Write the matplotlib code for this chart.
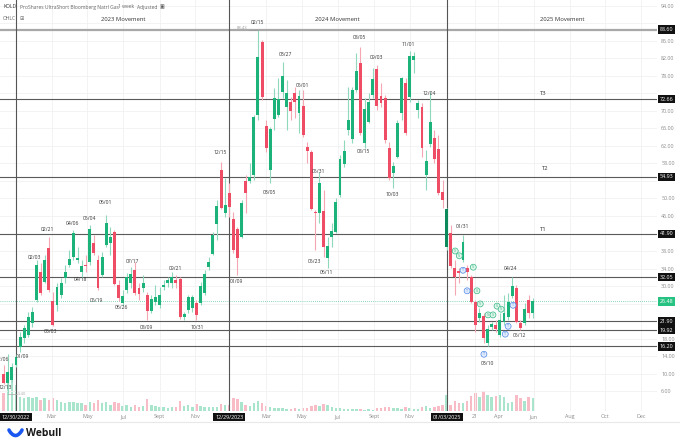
import numpy as np
import pandas as pd
import matplotlib
matplotlib.use("Agg")
import matplotlib.pyplot as plt
import matplotlib.dates as mdates
import matplotlib.transforms as mtrans
from matplotlib.lines import Line2D

plt.rcParams["font.family"] = ["Open Sans", "DejaVu Sans"]

# ---------------------------------------------------------------------------
# DATA  (weekly candles, week ending Friday, first candle 2022-12-09)
# ---------------------------------------------------------------------------
FIRST_WEEK = "2022-12-09"
opens = [9.9, 7.8, 8.5, 11.9,
         16.0, 18.1, 18.8, 21.5, 26.8, 33.2, 30.9, 38.7, 26.6, 25.6,
         27.9, 31.8, 34.8, 36.6, 35.9, 33.2, 34.8, 35.5, 39.8, 35.9,
         32.5, 39.4, 39.8, 42.3, 30.2, 26.1, 29.1, 30.7, 33.7, 29.6,
         29.5, 27.9, 24.3, 26.3, 25.6, 29.8, 30.7, 30.7, 31.4, 31.6,
         22.9, 24.5, 25.0, 26.1, 26.1, 28.4, 34.3, 37.3, 44.2, 56.5,
         46.7, 51.3, 45.3, 43.0, 41.2, 54.0, 54.0, 55.4, 69.1, 85.8,
         66.6, 56.5, 68.2, 69.1, 74.3, 70.9, 72.1, 74.1, 69.5, 71.1,
         61.8, 60.6, 46.9, 46.7, 47.1, 36.4, 41.2, 42.3, 50.8, 57.9,
         65.7, 63.6, 74.8, 81.0, 62.7, 67.5, 73.7, 79.6, 73.4, 73.0,
         61.5, 55.8, 59.5, 69.5, 76.4, 73.2, 81.7, 70.2, 70.9, 55.4,
         62.4, 63.8, 61.3, 51.5, 38.9, 42.1, 34.1, 33.4, 35.9, 34.1,
         32.0, 26.3, 22.6, 23.1, 17.0, 20.6, 21.1, 18.8, 21.8, 22.9,
         27.7, 29.5, 21.5, 21.5, 26.8, 23.9]
highs = [12.0, 14.5, 12.5, 14.5,
         19.5, 21.1, 24.0, 25.2, 35.9, 35.3, 37.1, 41.2, 28.6, 30.7,
         31.8, 34.8, 38.2, 42.8, 38.9, 35.9, 37.1, 43.9, 41.6, 37.1,
         37.8, 46.2, 43.5, 42.8, 31.4, 29.1, 33.0, 34.3, 35.5, 30.7,
         32.5, 28.6, 27.9, 30.2, 29.8, 31.4, 32.0, 33.2, 32.5, 32.0,
         24.0, 27.9, 27.9, 26.8, 30.9, 33.7, 36.6, 42.3, 49.7, 58.3,
         54.7, 53.5, 46.9, 43.5, 49.7, 55.4, 58.1, 69.1, 88.43, 86.2,
         67.9, 66.3, 75.3, 77.5, 81.2, 77.1, 73.2, 75.5, 74.8, 74.8,
         62.9, 61.1, 47.4, 56.1, 51.9, 41.2, 44.4, 50.1, 59.9, 63.4,
         75.5, 75.5, 83.3, 84.6, 73.0, 74.1, 79.8, 80.5, 76.4, 73.7,
         62.9, 58.3, 67.9, 77.8, 77.5, 83.7, 83.5, 72.5, 71.8, 61.1,
         74.3, 65.7, 64.5, 54.2, 47.8, 43.9, 35.9, 34.1, 41.6, 34.8,
         32.5, 26.8, 24.9, 23.8, 21.1, 21.8, 22.2, 23.8, 27.9, 28.4,
         32.0, 30.2, 22.2, 26.1, 27.9, 27.2]
lows = [7.6, 5.40, 8.0, 11.5,
        14.9, 17.0, 18.3, 20.6, 26.3, 27.9, 30.7, 28.6, 20.8, 24.3,
        27.2, 30.7, 34.3, 35.9, 35.3, 31.8, 33.2, 34.8, 37.1, 29.1,
        32.0, 38.9, 37.1, 30.2, 26.6, 25.6, 28.4, 29.5, 27.9, 26.8,
        28.6, 22.2, 23.8, 25.6, 24.9, 29.1, 29.8, 29.5, 29.5, 22.4,
        22.2, 23.8, 24.0, 22.2, 25.6, 27.9, 33.7, 37.1, 40.5, 47.6,
        45.8, 45.8, 37.5, 32.5, 41.0, 46.7, 53.5, 54.2, 67.9, 72.5,
        60.6, 53.5, 65.7, 68.6, 73.0, 65.7, 67.9, 68.4, 65.0, 64.1,
        58.1, 47.4, 38.2, 44.4, 36.6, 34.1, 38.9, 42.1, 50.3, 57.2,
        64.5, 62.7, 74.3, 64.5, 61.5, 67.2, 73.0, 70.2, 70.9, 62.7,
        54.2, 52.4, 59.2, 67.9, 64.5, 72.1, 78.7, 68.4, 59.5, 51.9,
        61.8, 58.1, 50.8, 47.8, 38.2, 34.1, 27.9, 30.7, 35.5, 31.4,
        26.1, 19.5, 21.8, 17.0, 16.2, 19.9, 19.5, 18.3, 21.1, 22.2,
        27.2, 21.5, 19.9, 21.1, 22.6, 22.6]
closes = [7.8, 10.3, 11.5, 13.7,
          18.3, 20.4, 22.9, 24.0, 34.8, 28.4, 35.9, 29.1, 21.1, 29.8,
          30.7, 33.2, 36.2, 42.1, 36.4, 34.6, 34.6, 43.0, 37.5, 29.5,
          36.6, 44.4, 41.2, 30.5, 27.2, 27.7, 32.0, 32.7, 28.4, 28.2,
          30.7, 24.3, 27.0, 27.5, 27.9, 30.2, 31.4, 32.0, 30.7, 22.9,
          23.6, 27.5, 27.5, 23.4, 30.0, 32.7, 35.5, 41.6, 48.3, 47.8,
          48.5, 48.0, 38.2, 36.4, 49.0, 51.3, 54.9, 68.6, 82.3, 73.2,
          61.5, 65.9, 73.0, 72.7, 78.0, 74.1, 70.0, 72.1, 73.4, 64.5,
          60.8, 47.6, 46.7, 53.5, 38.9, 39.1, 42.6, 49.2, 59.0, 60.8,
          67.9, 74.8, 79.1, 65.0, 70.4, 72.1, 77.3, 71.1, 71.8, 63.4,
          54.7, 57.4, 67.2, 77.5, 65.0, 82.6, 82.6, 71.8, 61.5, 58.6,
          67.5, 59.0, 51.3, 49.7, 47.6, 34.6, 32.0, 32.9, 40.1, 33.2,
          26.3, 21.1, 23.8, 18.1, 20.2, 21.3, 20.2, 22.2, 23.8, 26.3,
          30.0, 21.8, 20.4, 24.7, 23.8, 26.48]
volumes = [18, 30, 31, 26,
           14, 13, 14, 13, 14, 11, 13, 11, 13, 11,
           9, 8, 9, 9, 8, 8, 6, 9, 8, 11,
           8, 9, 6, 9, 8, 5, 6, 4, 6, 4,
           5, 12, 6, 5, 4, 4, 3, 4, 4, 10,
           5, 6, 4, 7, 5, 4, 4, 4, 4, 7,
           6, 6, 13, 12, 9, 6, 5, 8, 10, 8,
           5, 4, 3, 3, 3, 2, 2, 3, 2, 3,
           3, 5, 6, 5, 7, 6, 4, 3, 3, 2,
           2, 2, 2, 2, 1, 2, 1, 3, 3, 4,
           4, 3, 3, 2, 4, 3, 2, 2, 4, 5,
           3, 4, 5, 6, 16, 6, 10, 8, 8, 10,
           15, 18, 14, 20, 16, 14, 15, 16, 14, 8,
           9, 16, 13, 10, 14, 13]
highlight_week = "2025-01-03"   # candle under the crosshair (drawn darker)

# horizontal levels drawn on the chart
levels = [88.60, 72.66, 54.93, 41.90, 32.05, 21.90, 19.92, 16.20]
last_price = 26.48
targets = [("T3", "2025-06-17", 73.9), ("T2", "2025-06-20", 56.9), ("T1", "2025-06-17", 43.0)]
year_titles = [("2023 Movement", "2023-07-01"), ("2024 Movement", "2024-07-01"),
               ("2025 Movement", "2025-07-19")]
year_lines = ["2022-12-30", "2023-12-29", "2025-01-03"]
year_boxes = ["12/30/2022", "12/29/2023", "01/03/2025"]

# extreme-date labels: text, weeks after 2022-12-30, price
date_labels = [("12/06", -3.4, 13.1), ("12/13", -2.7, 6.9), ("01/09", 1.5, 13.8),
               ("02/03", 4.6, 36.6), ("02/21", 7.6, 43.0), ("03/03", 8.5, 19.5),
               ("04/06", 13.7, 44.2), ("04/18", 15.6, 31.4), ("05/04", 17.8, 45.5),
               ("05/19", 19.5, 26.8), ("06/01", 21.7, 49.0), ("06/26", 25.6, 25.0),
               ("07/17", 28.5, 35.5), ("08/09", 31.9, 20.6), ("09/21", 38.8, 33.9),
               ("10/31", 44.1, 20.6), ("12/15", 49.8, 60.4), ("01/09", 53.7, 31.1),
               ("02/15", 58.8, 90.3), ("03/05", 61.7, 51.3), ("03/27", 65.6, 83.0),
               ("05/01", 69.8, 75.9), ("05/31", 73.7, 56.1), ("05/23", 72.7, 35.5),
               ("06/11", 75.6, 33.2), ("08/05", 83.7, 86.9), ("09/03", 87.8, 82.3),
               ("08/15", 84.6, 60.8), ("10/03", 91.7, 51.0), ("11/01", 95.6, 85.1),
               ("12/04", 100.7, 73.9), ("01/31", 108.8, 43.5), ("03/10", 114.9, 12.4),
               ("04/24", 120.5, 34.1), ("05/12", 122.7, 18.8)]

# trade markers in 2025: letter, weeks after 2022-12-30, price
markers = [("S", 107.1, 38.0), ("S", 108.1, 36.9), ("T", 109.0, 33.6), ("S", 111.5, 34.3),
           ("T", 110.0, 28.9), ("S", 112.4, 28.9), ("S", 113.2, 25.9), ("S", 115.1, 23.4),
           ("S", 116.3, 23.4), ("S", 117.3, 25.4), ("S", 118.3, 24.7), ("T", 121.2, 25.6),
           ("T", 120.0, 20.8), ("T", 119.3, 19.0), ("T", 114.1, 14.4)]

month_ticks = ["2023-03-01", "2023-05-01", "2023-07-01", "2023-09-01", "2023-11-01",
               "2024-03-01", "2024-05-01", "2024-07-01", "2024-09-01", "2024-11-01",
               "2025-02-21", "2025-04-01", "2025-06-01", "2025-08-01", "2025-10-01",
               "2025-12-01"]
month_labels = ["Mar", "May", "Jul", "Sept", "Nov", "Mar", "May", "Jul", "Sept", "Nov",
                "21", "Apr", "Jun", "Aug", "Oct", "Dec"]
price_ticks = np.arange(6, 95, 4)

# ---------------------------------------------------------------------------
# STYLE
# ---------------------------------------------------------------------------
GREEN = "#1cb37b"
DARK_GREEN = "#0d8a5b"
RED = "#ef4d66"
GREEN_WICK = "#8fd8bc"
RED_WICK = "#f6a6b3"
GREEN_VOL = "#a9e4cd"
RED_VOL = "#f8bcc6"
GREY_TXT = "#8a8a8a"

W, H = 680, 442
fig = plt.figure(figsize=(W / 100, H / 100), dpi=100)
ax = fig.add_axes([0, 31 / H, 657 / W, 411 / H])

dates = pd.date_range(FIRST_WEEK, periods=len(opens), freq="W-FRI")
x = mdates.date2num(dates)
BASE = mdates.date2num(pd.Timestamp("2022-12-30"))


def wk(k):
    return BASE + 7 * k


o = np.array(opens)
c = np.array(closes)
up = c >= o
body_col = [GREEN if u else RED for u in up]
hl = int(np.where(dates == pd.Timestamp(highlight_week))[0][0])
body_col[hl] = DARK_GREEN
wick_col = [GREEN_WICK if u else RED_WICK for u in up]
vol_col = [GREEN_VOL if u else RED_VOL for u in up]

# volume underneath
vax = ax.twinx()
vax.bar(x, volumes, width=4.2, color=vol_col, linewidth=0)
vax.set_ylim(0, max(volumes) * 13.3)
vax.axis("off")
vax.set_zorder(ax.get_zorder() - 1)
ax.patch.set_visible(False)

# candles
ax.vlines(x, lows, highs, colors=wick_col, linewidth=0.8, zorder=3)
heights = np.maximum(np.abs(c - o), 0.3)
ax.bar(x, heights, bottom=np.minimum(o, c), width=5.0, color=body_col, linewidth=0, zorder=4)

ax.set_xlim(wk(-3.9), wk(156.3))
ax.set_ylim(1.43, 95.37)

# ticks / grid  (price ticks hidden behind a level box are left out)
ax.set_xticks(mdates.date2num(pd.to_datetime(month_ticks)))
ax.set_xticklabels(month_labels)
shown = [v for v in price_ticks
         if all(abs(v - lv) > 1.5 for lv in levels + [last_price])]
ax.set_yticks(price_ticks)
ax.set_yticklabels([f"{v:.2f}" if v in shown else "" for v in price_ticks])
ax.yaxis.tick_right()
ax.tick_params(axis="both", length=0, labelsize=3.9, labelcolor=GREY_TXT)
ax.tick_params(axis="y", pad=3)
ax.tick_params(axis="x", pad=2.5)
ax.grid(True, color="#f1f1f1", linewidth=0.6, zorder=0)
for s in ax.spines.values():
    s.set_visible(False)

# level lines
for lv in levels:
    if lv == 88.60:
        ax.axhline(lv, color="#a8a8a8", linewidth=1.6, zorder=2)
    else:
        ax.axhline(lv, color="#5a5a5a", linewidth=0.8, zorder=2)
ax.axhline(last_price, color=GREEN, linewidth=0.5, linestyle=(0, (1, 2)), zorder=2)

yright = mtrans.blended_transform_factory(ax.transAxes, ax.transData)
for lv in levels:
    ax.text(1.004, lv, f"{lv:.2f}", transform=yright, ha="left", va="center",
            fontsize=3.9, color="white", clip_on=False, zorder=6,
            bbox=dict(boxstyle="square,pad=0.3", fc="#111111", ec="none"))
ax.text(1.004, last_price, f"{last_price:.2f}", transform=yright, ha="left", va="center",
        fontsize=3.9, color="white", clip_on=False, zorder=6,
        bbox=dict(boxstyle="square,pad=0.3", fc="#26c281", ec="none"))

# year separators
xbottom = mtrans.blended_transform_factory(ax.transData, ax.transAxes)
for d, lab in zip(year_lines, year_boxes):
    xd = mdates.date2num(pd.Timestamp(d))
    ax.axvline(xd, color="#555555", linewidth=0.8, zorder=2)
    ax.text(xd, -0.0146, lab, transform=xbottom, ha="center", va="center",
            fontsize=3.9, color="white", clip_on=False, zorder=6,
            bbox=dict(boxstyle="square,pad=0.35", fc="#111111", ec="none"))

for txt, d in year_titles:
    ax.text(mdates.date2num(pd.Timestamp(d)), 90.8, txt, ha="center", va="center",
            fontsize=4.2, color="#333333", zorder=5)
for txt, d, p in targets:
    ax.text(mdates.date2num(pd.Timestamp(d)), p, txt, ha="center", va="center",
            fontsize=4.2, color="#333333", zorder=5)

for txt, k, p in date_labels:
    ax.text(wk(k), p, txt, ha="center", va="center", fontsize=3.6, color="#333333",
            zorder=5, clip_on=True)

# extreme price markers
ax.text(wk(55.1), 88.9, "88.43", ha="center", va="center", fontsize=3.0, color="#999999", zorder=5)
ax.plot([wk(56.7), wk(58.9)], [88.43, 88.43], color="#999999", linewidth=0.5, zorder=5)
ax.plot([wk(-2), wk(0.2)], [5.40, 5.40], color="#aaaaaa", linewidth=0.5, zorder=5)
ax.text(wk(0.4), 5.40, "5.40", ha="left", va="center", fontsize=3.0, color="#aaaaaa", zorder=5)

for letter, k, p in markers:
    if letter == "T":
        ec, fc = "#4a86e8", "#e3ecfb"
    else:
        ec, fc = "#35b883", "#dff5ec"
    ax.text(wk(k), p, letter, ha="center", va="center", fontsize=2.8, color=ec, zorder=7,
            bbox=dict(boxstyle="circle,pad=0.25", fc=fc, ec=ec, linewidth=0.5))


# header
def px(xp, yp):
    return xp / W, 1 - yp / H


fig.text(*px(3, 7), "KOLD", fontsize=3.6, color="#333333", va="center")
fig.text(*px(20, 7), "ProShares UltraShort Bloomberg Natrl Gas", fontsize=3.6,
         color="#666666", va="center")
fig.text(*px(118, 7), "1 week", fontsize=3.6, color="#666666", va="center")
fig.text(*px(137, 7), "Adjusted", fontsize=3.6, color="#666666", va="center")
fig.text(*px(160, 7), "\u25a3", fontsize=3.6, color="#555555", va="center")
fig.text(*px(3, 19), "OHLC", fontsize=3.6, color="#666666", va="center")
fig.text(*px(20, 19), "\u229e", fontsize=3.6, color="#666666", va="center")

# footer
fig.add_artist(Line2D([0, 1], [1 - 422 / H, 1 - 422 / H], color="#e8e8e8", linewidth=0.8))
t = np.linspace(0, 1, 30)
fig.add_artist(Line2D((9 + 13 * t) / W, 1 - (430 + 5.5 * np.sin(np.pi * t) ** 0.8) / H,
                      color="#1a56f0", linewidth=2.6, solid_capstyle="round"))
fig.text(*px(26, 434), "Webull", fontsize=7.5, fontweight="bold", color="#1a1a1a", va="center")

fig.savefig("out.png", dpi=100, facecolor="white")
